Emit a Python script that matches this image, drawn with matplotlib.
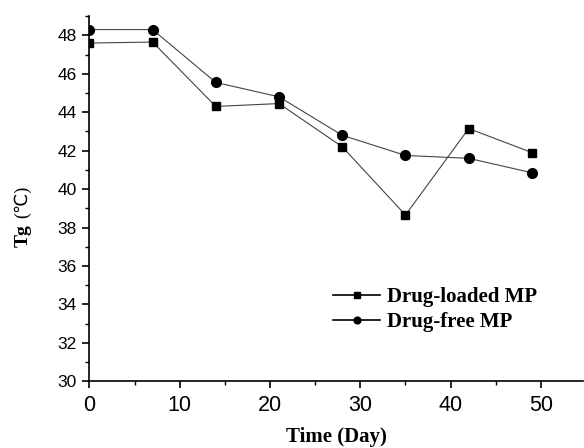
import matplotlib
matplotlib.use("Agg")
import matplotlib.pyplot as plt
from matplotlib.ticker import MultipleLocator

days = [0, 7, 14, 21, 28, 35, 42, 49]
drug_loaded = [47.6, 47.65, 44.3, 44.45, 42.2, 38.65, 43.15, 41.9]
drug_free = [48.3, 48.3, 45.55, 44.8, 42.8, 41.75, 41.6, 40.85]

fig = plt.figure(figsize=(5.84, 4.48), dpi=100)
ax = fig.add_axes([0.153, 0.149, 0.846, 0.815])

ax.plot(days, drug_loaded, color="#444444", lw=0.8, marker="s", ms=6,
        mfc="black", mec="black", label="Drug-loaded MP")
ax.plot(days, drug_free, color="#444444", lw=0.8, marker="o", ms=7,
        mfc="black", mec="black", label="Drug-free MP")

ax.set_xlim(0, 54.7)
ax.set_ylim(30, 49)
ax.xaxis.set_major_locator(MultipleLocator(10))
ax.xaxis.set_minor_locator(MultipleLocator(5))
ax.yaxis.set_major_locator(MultipleLocator(2))
ax.yaxis.set_minor_locator(MultipleLocator(1))

for s in ["top", "right"]:
    ax.spines[s].set_visible(False)
for s in ["left", "bottom"]:
    ax.spines[s].set_linewidth(1.2)

ax.tick_params(which="major", direction="out", length=5, width=1.2)
ax.tick_params(which="minor", direction="out", length=3, width=1.0)
for lab in ax.get_xticklabels() + ax.get_yticklabels():
    lab.set_fontfamily("Liberation Sans")
ax.tick_params(axis="x", labelsize=15.5, pad=5)
ax.tick_params(axis="y", labelsize=12.5, pad=4)

ax.set_xlabel("Time (Day)", fontfamily="Liberation Serif", fontweight="bold",
              fontsize=15, labelpad=8)

# y label: bold "Tg" plus plain "(℃)"
fig.text(0.040, 0.475, "Tg", rotation=90, ha="center", va="center",
         fontfamily="Liberation Serif", fontweight="bold", fontsize=14)
fig.text(0.038, 0.550, "(℃)", rotation=90, ha="center", va="center",
         fontfamily=["Liberation Serif", "DejaVu Sans"], fontsize=13)

leg = ax.legend(loc="center left", bbox_to_anchor=(0.473, 0.196), frameon=False,
                prop={"family": "Liberation Serif", "weight": "bold", "size": 15},
                handlelength=2.25, handletextpad=0.33, labelspacing=0.25,
                borderpad=0, markerscale=0.7)
for h in leg.legend_handles:
    h.set_color("black")
    h.set_linewidth(1.2)

fig.savefig("out.png", dpi=100)
